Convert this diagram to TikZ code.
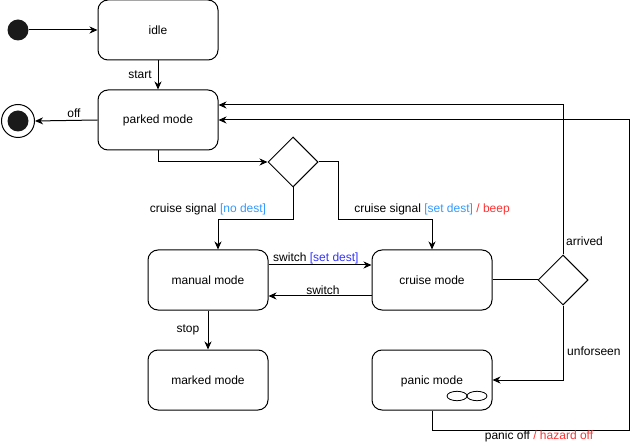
\documentclass[tikz,border=0pt]{standalone}
\usepackage{fontspec}
\setmainfont{Liberation Sans}
\usetikzlibrary{shapes.geometric,arrows.meta}
\definecolor{lblue}{HTML}{3399FF}
\definecolor{sblue}{HTML}{3333FF}
\definecolor{lred}{HTML}{FF3333}
\definecolor{dk}{HTML}{1A1A1A}
\tikzset{
  statebox/.style={draw, rounded corners=10pt, minimum width=120pt, minimum height=60pt, line width=1pt, inner sep=0pt, font=\fontsize{12}{14}\selectfont},
  choice/.style={draw, diamond, minimum width=50pt, minimum height=50pt, inner sep=0pt, line width=1pt},
  conn/.style={line width=1pt, -{Stealth[length=8pt,width=7pt,inset=2.5pt]}},
  plain/.style={line width=1pt},
  lbl/.style={font=\fontsize{12}{14}\selectfont, inner sep=0pt},
}
\begin{document}
\begin{tikzpicture}[x=1pt,y=-1pt]
\useasboundingbox (0,0) rectangle (637,446);
% nodes
\node[circle, fill=dk, minimum size=21pt, inner sep=0pt] (init) at (18,30) {};
\node[statebox] (idle) at (158,30) {idle};
\node[statebox] (parked) at (158,120) {parked mode};
\node[circle, draw, line width=1pt, minimum size=33pt, inner sep=0pt] (fin) at (18,121) {};
\node[circle, fill=dk, minimum size=21pt, inner sep=0pt] (finin) at (18,121) {};
\node[choice] (d1) at (293,162) {};
\node[statebox] (manual) at (208,280) {manual mode};
\node[statebox] (cruise) at (432,280) {cruise mode};
\node[choice] (d2) at (563,280) {};
\node[statebox] (marked) at (208,380) {marked mode};
\node[statebox] (panic) at (432,380) {};
\node[lbl] (paniclbl) at (432,381) {panic mode};
\draw[line width=0.8pt] (457,396) ellipse (10pt and 4.7pt);
\draw[line width=0.8pt] (477,396) ellipse (10pt and 4.7pt);
\coordinate (rc) at (629,430);
\coordinate (pb) at (432,430);
\coordinate (j1) at (218,220);
\coordinate (j2) at (338,162);
\coordinate (j3) at (432,220);
% connectors
\draw[conn] (init) -- (idle.west);
\draw[conn] (idle.south) -- (parked.north);
\draw[conn] (parked.west) -- (fin.east);
\draw[conn] (parked.south) |- (d1.west);
\draw[conn] (d1.south) |- (j1) -- ([xshift=10pt]manual.north);
\draw[conn] (d1.east) -- (j2) |- (j3) -- (cruise.north);
\draw[conn] ([yshift=15pt]manual.east) -- ([yshift=15pt]cruise.west);
\draw[conn] ([yshift=-16pt]cruise.west) -- ([yshift=-16pt]manual.east);
\draw[plain] (cruise.east) -- (d2.west);
\draw[conn] (d2.north) |- ([yshift=15pt]parked.east);
\draw[conn] (d2.south) |- (panic.east);
\draw[conn] (panic.south) -- (pb) -- (rc) |- (parked.east);
\draw[conn] (manual.south) -- (marked.north);
% labels
\node[lbl] (lstart) at (140,75) {start};
\node[lbl] (loff) at (74,113) {off};
\node[lbl] (lnodest) at (208,209) {cruise signal \textcolor{lblue}{[no dest]}};
\node[lbl] (lsetdest) at (432,209) {cruise signal \textcolor{lblue}{[set dest]} \textcolor{lred}{/ beep}};
\node[lbl, anchor=west] (lsw1) at (273,258) {switch \textcolor{sblue}{[set dest]}};
\node[lbl] (lsw2) at (323,290) {switch};
\node[lbl] (lstop) at (188,330) {stop};
\node[lbl, anchor=west] (larr) at (566,241) {arrived};
\node[lbl, anchor=west] (lunf) at (567,351) {unforseen};
\node[lbl] (lpoff) at (539,436) {panic off \textcolor{lred}{/ hazard off}};
\end{tikzpicture}
\end{document}
